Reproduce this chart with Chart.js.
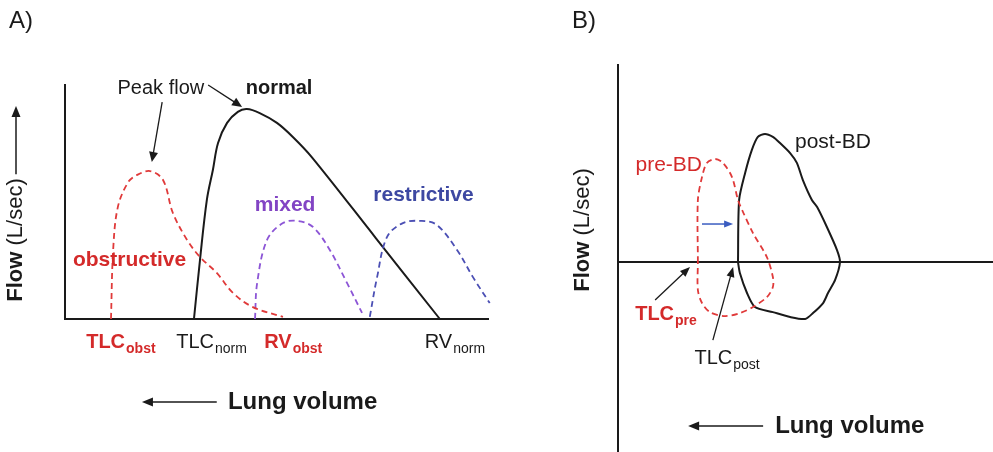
<!DOCTYPE html>
<html><head><meta charset="utf-8">
<script src="https://cdn.jsdelivr.net/npm/chart.js@4/dist/chart.umd.min.js"></script>
<style>
html,body{margin:0;padding:0;background:#fff;}
#wrap{position:relative;width:993px;height:452px;overflow:hidden;background:#fff;}
#ca{position:absolute;left:0;top:0;}
#cb{position:absolute;left:560px;top:0;}
</style></head><body>
<div id="wrap"><canvas id="ca" width="560" height="452"></canvas><canvas id="cb" width="433" height="452"></canvas></div>
<script>
// ---------- Panel A data (x = lung volume, TLC on the left; y = flow) ----------
const normalX = [30.0,31.4,33.0,34.4,35.6,37.7,40.2,42.3,45.3,49.3,53.0,57.4,72.3,87.2];
const normalY = [0,25.2,50.9,63.7,75.2,83.8,88.5,89.7,88.0,83.8,77.8,69.2,34.6,0];
const obstructiveX = [10.7,11.2,12.3,14.7,16.7,19.8,22.8,25.1,28.4,31.4,35.3,39.1,43.7,50.7];
const obstructiveY = [0,29.5,47.9,58.5,61.5,63.2,59.4,45.3,33.8,26.5,19.7,11.1,5.1,0.9];
const mixedX = [44.2,44.7,47.0,50.7,54.2,57.7,61.6,65.6,69.1];
const mixedY = [0,15.4,33.8,41.0,41.9,39.3,29.5,15.4,2.6];
const restrictiveX = [70.9,72.6,74.9,78.6,83.0,86.5,91.2,94.9,98.8,100.5];
const restrictiveY = [0.9,17.9,35.0,41.0,41.9,40.2,29.5,17.9,6.8,2.1];
const tickNamesA = ["TLC","TLC","RV","RV"];
const tickSubsA = ["obst","norm","obst","norm"];
const tickPosA = [13.0,34.1,53.1,90.7];

// ---------- Panel B data (flow-volume loops, inspiration below zero) ----------
const postX = [32.0,32.3,33.9,35.7,37.3,39.2,41.3,43.2,45.9,47.7,49.3,51.7,53.1,55.7,58.4,59.2,57.9,56.0,54.7,52.0,49.9,45.9,41.3,36.5,34.4,32.5,32.0];
const postY = [0,31.5,45.2,56.9,63.5,65.0,63.5,60.4,55.3,50.3,41.6,31.5,27.9,17.8,6.1,0,-9.1,-15.7,-20.8,-25.9,-28.9,-27.9,-25.4,-22.8,-15.7,-5.6,0];
const preX = [21.3,21.3,22.4,23.7,25.9,28.0,30.4,32.0,33.1,36.0,39.7,41.3,41.3,39.7,36.0,32.5,28.5,24.5,22.4,21.3,21.3];
const preY = [0,31.5,43.1,50.3,52.3,50.3,43.1,31.5,26.4,14.7,2.5,-7.6,-12.7,-17.8,-22.8,-25.9,-27.4,-25.4,-20.8,-14.2,0];

const FONT = '"Liberation Sans", Arial, Helvetica, sans-serif';
const RED_LINE = '#e03a3a', RED_TEXT = '#d42a2a';
const MIX_LINE = '#8c55d6', MIX_TEXT = '#8244c4';
const RES_LINE = '#4b4fb4', RES_TEXT = '#3d48a2';
const BLACK = '#1a1a1a';

function pts(xs, ys){ return xs.map((x,i)=>({x:x,y:ys[i]})); }

function arrow(ctx, x1,y1,x2,y2,color,lw,hl,hw){
  const a = Math.atan2(y2-y1,x2-x1);
  ctx.save();
  ctx.strokeStyle=color; ctx.fillStyle=color; ctx.lineWidth=lw; ctx.setLineDash([]);
  ctx.beginPath(); ctx.moveTo(x1,y1); ctx.lineTo(x2-Math.cos(a)*hl*0.8,y2-Math.sin(a)*hl*0.8); ctx.stroke();
  ctx.beginPath();
  ctx.moveTo(x2,y2);
  ctx.lineTo(x2-Math.cos(a)*hl+Math.sin(a)*hw, y2-Math.sin(a)*hl-Math.cos(a)*hw);
  ctx.lineTo(x2-Math.cos(a)*hl-Math.sin(a)*hw, y2-Math.sin(a)*hl+Math.cos(a)*hw);
  ctx.closePath(); ctx.fill();
  ctx.restore();
}
function subText(ctx, main, sub, cx, base, color, bold, ms, ss){
  ctx.save();
  ctx.fillStyle=color; ctx.textBaseline='alphabetic'; ctx.textAlign='left';
  const w = bold ? 'bold ' : '';
  ctx.font = w+ms+'px '+FONT; const mw = ctx.measureText(main).width;
  ctx.font = w+ss+'px '+FONT; const sw = ctx.measureText(sub).width;
  const left = cx - (mw+sw+1)/2;
  ctx.font = w+ms+'px '+FONT; ctx.fillText(main,left,base);
  ctx.font = w+ss+'px '+FONT; ctx.fillText(sub,left+mw+1,base+5);
  ctx.restore();
}
function txt(ctx, s, x, y, color, font, align){
  ctx.save(); ctx.fillStyle=color; ctx.font=font; ctx.textAlign=align||'center'; ctx.textBaseline='middle';
  ctx.fillText(s,x,y); ctx.restore();
}
function yTitle(ctx, cx, cy){
  ctx.save(); ctx.translate(cx,cy); ctx.rotate(-Math.PI/2);
  ctx.fillStyle=BLACK; ctx.textBaseline='middle'; ctx.textAlign='left';
  ctx.font='bold 22px '+FONT; const w1=ctx.measureText('Flow').width;
  ctx.font='22px '+FONT; const w2=ctx.measureText(' (L/sec)').width;
  const l=-(w1+w2)/2;
  ctx.font='bold 22px '+FONT; ctx.fillText('Flow',l,0);
  ctx.font='22px '+FONT; ctx.fillText(' (L/sec)',l+w1,0);
  ctx.restore();
  return (w1+w2)/2;
}

const annA = {
  id:'annA',
  afterDraw(chart){
    const ctx=chart.ctx, X=chart.scales.x, Y=chart.scales.y;
    const px=v=>X.getPixelForValue(v), py=v=>Y.getPixelForValue(v);
    txt(ctx,'A)',9,21,BLACK,'24px '+FONT,'left');
    const half = yTitle(ctx,16,240);
    arrow(ctx,16,240-half-4,16,106,BLACK,1.5,11,4.5);
    txt(ctx,'Peak flow',px(22.3),py(98.7),BLACK,'20px '+FONT);
    txt(ctx,'normal',px(49.8),py(98.7),BLACK,'bold 20px '+FONT);
    arrow(ctx,px(33.3),py(100),px(41.2),py(90.6),BLACK,1.3,10,4.5);
    arrow(ctx,px(22.6),py(92.7),px(20.2),py(67.1),BLACK,1.3,10,4.5);
    txt(ctx,'obstructive',px(15.0),py(25.2),RED_TEXT,'bold 21px '+FONT);
    txt(ctx,'mixed',px(51.2),py(48.7),MIX_TEXT,'bold 21px '+FONT);
    txt(ctx,'restrictive',px(83.4),py(53.0),RES_TEXT,'bold 21px '+FONT);
    const tcol=[RED_TEXT,BLACK,RED_TEXT,BLACK], tb=[true,false,true,false];
    tickPosA.forEach((v,i)=>subText(ctx,tickNamesA[i],tickSubsA[i],px(v),py(-12.4),tcol[i],tb[i],20,14));
    arrow(ctx,px(35.3),py(-35.5),px(17.9),py(-35.5),BLACK,1.5,11,4.5);
    txt(ctx,'Lung volume',px(37.9),py(-35.5),BLACK,'bold 24px '+FONT,'left');
  }
};
const zeroLineB = {
  id:'zeroLineB',
  beforeDatasetsDraw(chart){
    const ctx=chart.ctx, Y=chart.scales.y, a=chart.chartArea;
    const y0=Y.getPixelForValue(0);
    ctx.save(); ctx.strokeStyle=BLACK; ctx.lineWidth=2; ctx.setLineDash([]);
    ctx.beginPath(); ctx.moveTo(a.left,y0); ctx.lineTo(a.right,y0); ctx.stroke(); ctx.restore();
  }
};
const annB = {
  id:'annB',
  afterDraw(chart){
    const ctx=chart.ctx, X=chart.scales.x, Y=chart.scales.y;
    const px=v=>X.getPixelForValue(v), py=v=>Y.getPixelForValue(v);
    txt(ctx,'B)',12,21,BLACK,'24px '+FONT,'left');
    yTitle(ctx,23,230);
    txt(ctx,'post-BD',px(47.2),py(61),BLACK,'21px '+FONT,'left');
    txt(ctx,'pre-BD',px(22.4),py(49.2),RED_TEXT,'21px '+FONT,'right');
    arrow(ctx,px(22.4),py(19.3),px(30.7),py(19.3),'#3a5cc0',1.5,9,3.5);
    subText(ctx,'TLC','pre',px(12.8),py(-29.4),RED_TEXT,true,20,14);
    subText(ctx,'TLC','post',px(29.1),py(-51.8),BLACK,false,20,14);
    arrow(ctx,px(9.9),py(-19.3),px(19.2),py(-2.5),BLACK,1.3,10,4);
    arrow(ctx,px(25.3),py(-39.6),px(30.7),py(-2.5),BLACK,1.3,10,4);
    arrow(ctx,px(38.7),py(-83.2),px(18.7),py(-83.2),BLACK,1.5,11,4.5);
    txt(ctx,'Lung volume',px(41.9),py(-83.2),BLACK,'bold 24px '+FONT,'left');
  }
};

function line(data,color,dash,width,tension){
  return {data:data,borderColor:color,borderWidth:width,borderDash:dash,pointRadius:0,showLine:true,fill:false,tension:tension,clip:false};
}

new Chart(document.getElementById('ca'),{
  type:'scatter',
  data:{datasets:[
    line(pts(obstructiveX,obstructiveY),RED_LINE,[6,4],1.8,0.35),
    line(pts(mixedX,mixedY),MIX_LINE,[6,4],1.8,0.35),
    line(pts(restrictiveX,restrictiveY),RES_LINE,[6,4],1.8,0.35),
    line(pts(normalX,normalY),BLACK,[],2,0.35)
  ]},
  options:{
    responsive:false, animation:false, events:[],
    layout:{padding:{left:65,right:72,top:85,bottom:133}},
    plugins:{legend:{display:false},tooltip:{enabled:false}},
    scales:{
      x:{type:'linear',min:0,max:98.4,ticks:{display:false},grid:{display:false,drawTicks:false},border:{display:true,color:BLACK,width:2}},
      y:{type:'linear',min:0,max:100,ticks:{display:false},grid:{display:false,drawTicks:false},border:{display:true,color:BLACK,width:2}}
    }
  },
  plugins:[annA]
});

new Chart(document.getElementById('cb'),{
  type:'scatter',
  data:{datasets:[
    line(pts(preX,preY),RED_LINE,[6,4],1.8,0.3),
    line(pts(postX,postY),BLACK,[],2,0.25)
  ]},
  options:{
    responsive:false, animation:false, events:[],
    layout:{padding:{left:58,right:0,top:65,bottom:0}},
    plugins:{legend:{display:false},tooltip:{enabled:false}},
    scales:{
      x:{type:'linear',min:0,max:100,ticks:{display:false},grid:{display:false,drawTicks:false},border:{display:false}},
      y:{type:'linear',min:-96.4,max:100,ticks:{display:false},grid:{display:false,drawTicks:false},
         border:{display:true,color:BLACK,width:2}}
    }
  },
  plugins:[zeroLineB,annB]
});
</script>
</body></html>
